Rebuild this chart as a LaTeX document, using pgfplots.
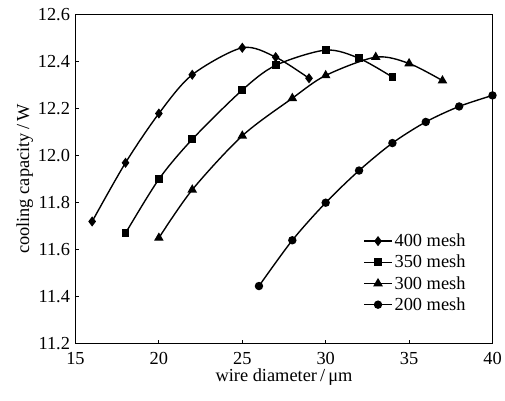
\documentclass[border=0pt]{standalone}
\usepackage{fontspec}
\setmainfont{Liberation Serif}
\usepackage{pgfplots}
\pgfplotsset{compat=1.18}
\begin{document}
\begin{tikzpicture}
\begin{axis}[
  at={(0pt,0pt)}, anchor=south west,
  scale only axis, width=420pt, height=331pt,
  xmin=15, xmax=40, ymin=11.2, ymax=12.6,
  xtick={15,20,...,40},
  ytick={11.2,11.4,...,12.61},
  yticklabel style={/pgf/number format/fixed, /pgf/number format/fixed zerofill, /pgf/number format/precision=1, xshift=-2pt},
  xticklabel style={yshift=-5pt},
  /pgf/number format/assume math mode=true,
  tick align=inside, major tick length=4pt,
  xtick pos=bottom, ytick pos=left,
  tick style={black, line width=0.8pt},
  axis line style={line width=0.9pt},
  font=\fontsize{18.5}{22}\selectfont,
  xlabel={wire diameter\,/\,μm},
  ylabel={cooling capacity\,/\,W},
  xlabel style={yshift=3pt},
  ylabel style={yshift=-2pt},
  legend style={draw=none, fill=none, at={(0.69,0.34)}, anchor=north west,
    font=\fontsize{18.5}{22}\selectfont, row sep=3pt, inner sep=0pt},
  legend cell align=left,
  legend image code/.code={\draw[#1, line width=1.4pt] (0pt,0pt) -- (28pt,0pt); \draw[#1, only marks] plot coordinates {(14pt,0pt)};},
  every axis plot/.append style={black, line width=1.4pt, smooth, tension=0.5},
]
\addplot[mark=diamond*, mark size=4pt] coordinates {
 (16,11.72) (18,11.97) (20,12.18) (22,12.345) (25,12.46) (27,12.42) (29,12.33)};
\addlegendentry{400 mesh}
\addplot[mark=square*, mark size=3.2pt] coordinates {
 (18,11.67) (20,11.90) (22,12.07) (25,12.28) (27,12.385) (30,12.45) (32,12.415) (34,12.335)};
\addlegendentry{350 mesh}
\addplot[mark=triangle*, mark size=4.2pt] coordinates {
 (20,11.65) (22,11.855) (25,12.085) (28,12.245) (30,12.342) (33,12.42) (35,12.393) (37,12.32)};
\addlegendentry{300 mesh}
\addplot[mark=*, mark size=3.5pt] coordinates {
 (26,11.445) (28,11.64) (30,11.80) (32,11.937) (34,12.054) (36,12.144) (38,12.21) (40,12.257)};
\addlegendentry{200 mesh}
\end{axis}
\useasboundingbox (-76pt,-57pt) rectangle (429pt,346pt);
\end{tikzpicture}
\end{document}
